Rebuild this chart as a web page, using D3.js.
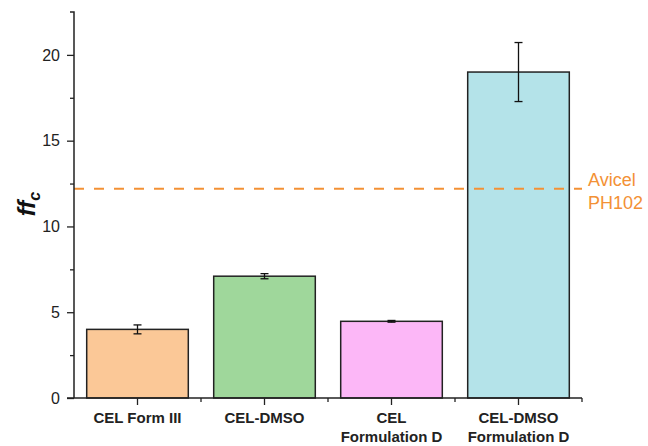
<!DOCTYPE html>
<html><head><meta charset="utf-8">
<script src="https://cdn.jsdelivr.net/npm/d3@7"></script>
<style>body{margin:0;background:#fff;}svg{display:block;}</style>
</head><body>
<svg id="c" width="648" height="446"></svg>
<script>
const categories = [["CEL Form III"], ["CEL-DMSO"], ["CEL", "Formulation D"], ["CEL-DMSO", "Formulation D"]];
const values = [4.0, 7.1, 4.47, 19.0];
const errors = [0.26, 0.15, 0.05, 1.72];
const colors = ["#FBC897", "#9FD79B", "#FCB7F7", "#B4E3E9"];
const refValue = 12.2;
const refLabel = ["Avicel", "PH102"];
const yTicks = [0, 5, 10, 15, 20];
const yMinorTicks = [2.5, 7.5, 12.5, 17.5];

const svg = d3.select("#c");
const x = d3.scaleBand().domain(d3.range(categories.length)).range([74, 582]).paddingInner(0.2).paddingOuter(0.1);
const y = d3.scaleLinear().domain([0, 22.5]).range([398, 12]);
const font = "Arial, 'Liberation Sans', sans-serif";

// bars
svg.selectAll("rect.bar").data(values).enter().append("rect")
  .attr("x", (d,i)=>x(i)).attr("width", x.bandwidth())
  .attr("y", d=>y(d)).attr("height", d=>y(0)-y(d))
  .attr("fill", (d,i)=>colors[i]).attr("stroke", "#222").attr("stroke-width", 1.5);

// error bars
const eg = svg.append("g").attr("stroke", "#111").attr("stroke-width", 1.3);
values.forEach((v,i)=>{
  const cx = x(i) + x.bandwidth()/2;
  eg.append("line").attr("x1", cx).attr("x2", cx).attr("y1", y(v+errors[i])).attr("y2", y(v-errors[i]));
  [v+errors[i], v-errors[i]].forEach(e=>{
    eg.append("line").attr("x1", cx-4).attr("x2", cx+4).attr("y1", y(e)).attr("y2", y(e));
  });
});

// reference line
svg.append("line").attr("x1", 74).attr("x2", 582).attr("y1", y(refValue)).attr("y2", y(refValue))
  .attr("stroke", "#F39135").attr("stroke-width", 2).attr("stroke-dasharray", "10,10");
svg.append("text").attr("fill", "#F39135")
  .attr("font-family", font).attr("font-size", 18)
  .selectAll("tspan").data(refLabel).enter().append("tspan")
  .attr("x", 588).attr("y", (d,i)=> 186 + i*22.5).text(d=>d);

// y axis
const yAxis = d3.axisLeft(y).tickValues(yTicks).tickSize(7).tickPadding(7).tickSizeOuter(0);
const gy = svg.append("g").attr("transform", "translate(74,0)").call(yAxis);
gy.selectAll("text").attr("font-family", font).attr("font-size", 16).attr("fill", "#222");
gy.selectAll("line").attr("stroke", "#222").attr("stroke-width", 1.3);
gy.select(".domain").attr("stroke", "#222").attr("stroke-width", 1.5).attr("d", "M0,398V12H-4");
const gym = svg.append("g").attr("transform", "translate(74,0)")
  .call(d3.axisLeft(y).tickValues(yMinorTicks).tickSize(4).tickFormat(""));
gym.select(".domain").remove();
gym.selectAll("line").attr("stroke", "#222").attr("stroke-width", 1.3);

// x axis
const gx = svg.append("g").attr("transform", "translate(0,398)");
gx.append("line").attr("x1", 67).attr("x2", 582).attr("y1", 0).attr("y2", 0).attr("stroke", "#222").attr("stroke-width", 1.5);
d3.range(categories.length).forEach(i=>{
  const cx = x(i)+x.bandwidth()/2;
  gx.append("line").attr("x1", cx).attr("x2", cx).attr("y1", 0).attr("y2", 7).attr("stroke", "#222").attr("stroke-width", 1.3);
  const bx = x(i) + x.bandwidth() + x.step()*x.paddingInner()/2;
  gx.append("line").attr("x1", bx).attr("x2", bx).attr("y1", 0).attr("y2", 4).attr("stroke", "#222").attr("stroke-width", 1.3);
  const t = gx.append("text").attr("text-anchor", "middle").attr("font-family", font)
    .attr("font-size", 15).attr("font-weight", "bold").attr("fill", "#222");
  categories[i].forEach((line, j)=>{
    t.append("tspan").attr("x", cx).attr("y", 25 + j*18.5).text(line);
  });
});

// y label
const yl = svg.append("text").attr("transform", "translate(35,204) rotate(-90)").attr("text-anchor", "middle")
  .attr("font-family", font).attr("font-size", 24).attr("font-weight", "bold").attr("font-style", "italic").attr("fill", "#111");
yl.append("tspan").text("ff");
yl.append("tspan").attr("font-size", 16).attr("dy", 5).text("c");
</script>
</body></html>
